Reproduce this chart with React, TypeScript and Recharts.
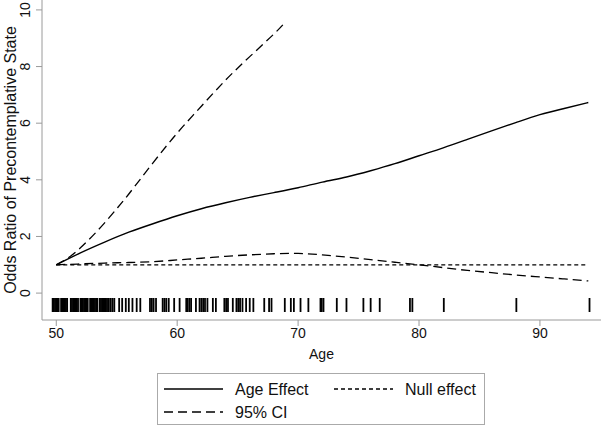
import { ComposedChart, Line, Scatter, XAxis, YAxis, Legend } from "recharts";

const effectAges = [50, 52, 54, 56, 58, 60, 62, 64, 66, 68, 70, 72, 74, 76, 78, 80, 82, 84, 86, 88, 90, 92, 94];
const ageEffect = [1.0, 1.42, 1.8, 2.15, 2.45, 2.73, 2.98, 3.19, 3.38, 3.55, 3.72, 3.92, 4.1, 4.32, 4.57, 4.85, 5.13, 5.43, 5.73, 6.02, 6.3, 6.52, 6.73];
const lowerCI = [1.0, 1.03, 1.06, 1.08, 1.11, 1.17, 1.23, 1.3, 1.35, 1.39, 1.4, 1.35, 1.27, 1.18, 1.09, 1.0, 0.9, 0.8, 0.72, 0.64, 0.57, 0.5, 0.43];

const upperAges = [50, 51, 52, 53, 54, 55, 56, 58, 60, 62, 64, 66, 68, 69];
const upperCI = [1.0, 1.25, 1.6, 2.02, 2.48, 2.98, 3.5, 4.6, 5.65, 6.6, 7.52, 8.35, 9.15, 9.6];

const nullAges = [50, 94];
const nullEffect = [1, 1];

const rugAges = [
  49.7, 49.8, 49.9, 50.0, 50.1, 50.2, 50.4, 50.5, 50.6, 50.7, 50.8, 50.9,
  51.2, 51.3, 51.4, 51.5, 51.6, 51.7, 51.8, 52.0, 52.1, 52.2, 52.3, 52.4, 52.5, 52.6,
  52.8, 52.9, 53.0, 53.1, 53.2, 53.3, 53.4, 53.6, 53.7, 53.8, 53.9, 54.0, 54.1, 54.2,
  54.35, 54.5, 54.65, 54.8, 55.2, 55.45, 55.75, 56.0, 56.3, 56.65, 56.95, 57.75, 57.9,
  58.05, 58.25, 58.8, 58.95, 59.1, 59.3, 59.75, 60.2, 60.75, 60.85, 61.0, 61.15, 61.55,
  61.85, 62.0, 62.15, 62.3, 62.5, 62.95, 63.2, 63.9, 64.05, 64.2, 64.6, 64.9, 65.05,
  65.2, 65.4, 65.7, 66.0, 66.3, 67.2, 67.6, 67.8, 68.9, 69.4, 69.65, 70.2, 70.85,
  71.85, 71.95, 72.1, 73.2, 74.0, 75.4, 76.0, 76.75, 79.25, 79.45, 82.05, 88.05, 94.1,
];
const rugLevel = -0.42;

const xTicks = [50, 60, 70, 80, 90];
const yTicks = [0, 2, 4, 6, 8, 10];

const toPoints = (xs: number[], ys: number[]) => xs.map((age, i) => ({ age, value: ys[i] }));

const FONT = "'Liberation Sans', Arial, sans-serif";
const AXIS = "#9a9a9a";
const LONG_DASH = "9 5";
const SHORT_DASH = "4 3";

const YTick = (props: any) => {
  const { x, y, payload } = props;
  return (
    <text x={x} y={y} transform={`rotate(-90 ${x} ${y})`} textAnchor="middle" dy={-4} fontSize={14} fontFamily={FONT} fill="#111">
      {payload.value}
    </text>
  );
};

const YTitle = (props: any) => {
  const vb = props.viewBox || { x: 0, y: 0, height: 320 };
  const x = vb.x + 16;
  const y = vb.y + vb.height / 2;
  return (
    <text x={x} y={y} transform={`rotate(-90 ${x} ${y})`} textAnchor="middle" fontSize={16} fontFamily={FONT} fill="#111">
      Odds Ratio of Precontemplative State
    </text>
  );
};

const RugMark = (props: any) => {
  const { cx, cy } = props;
  return <line x1={cx} x2={cx} y1={cy - 7} y2={cy + 7} stroke="#000" strokeWidth={1.8} />;
};

const legendItems = [
  { label: "Age Effect", dash: undefined },
  { label: "Null effect", dash: SHORT_DASH },
  { label: "95% CI", dash: LONG_DASH },
];

const LegendBox = () => (
  <div style={{ width: 328, height: 52, border: "1px solid #aaa", boxSizing: "border-box", background: "#fff" }}>
    <svg width={326} height={50}>
      {legendItems.map((it, i) => {
        const col = i % 2;
        const row = Math.floor(i / 2);
        const x0 = 6 + col * 170;
        const y0 = 15 + row * 23;
        return (
          <g key={it.label}>
            <line x1={x0} x2={x0 + 59} y1={y0} y2={y0} stroke="#000" strokeWidth={1.3} strokeDasharray={it.dash} />
            <text x={x0 + 71} y={y0 + 6} fontSize={16} fontFamily={FONT} fill="#111">
              {it.label}
            </text>
          </g>
        );
      })}
    </svg>
  </div>
);

export default function App() {
  return (
    <div style={{ width: 601, height: 426, background: "#fff", position: "relative" }}>
      <style>{"body{margin:0}"}</style>
      <ComposedChart width={601} height={426} margin={{ top: 0, right: 0, bottom: 0, left: 0 }}>
        <XAxis
          type="number"
          dataKey="age"
          domain={[48.82, 95.05]}
          ticks={xTicks}
          allowDataOverflow
          height={106}
          stroke={AXIS}
          tickSize={6}
          tick={{ fontSize: 14, fontFamily: FONT, fill: "#111" }}
          label={{ value: "Age", position: "insideTop", offset: 29, fontSize: 14, fontFamily: FONT, fill: "#111" }}
        />
        <YAxis
          type="number"
          dataKey="value"
          domain={[-0.95, 10.35]}
          ticks={yTicks}
          allowDataOverflow
          width={42}
          stroke={AXIS}
          tickSize={6}
          tick={<YTick />}
          label={{ position: "insideLeft", content: <YTitle /> }}
        />
        <Line data={toPoints(nullAges, nullEffect)} dataKey="value" stroke="#000" strokeWidth={1.2} strokeDasharray={SHORT_DASH} dot={false} isAnimationActive={false} />
        <Line data={toPoints(upperAges, upperCI)} dataKey="value" type="natural" stroke="#000" strokeWidth={1.3} strokeDasharray={LONG_DASH} dot={false} isAnimationActive={false} />
        <Line data={toPoints(effectAges, lowerCI)} dataKey="value" type="natural" stroke="#000" strokeWidth={1.3} strokeDasharray={LONG_DASH} dot={false} isAnimationActive={false} />
        <Line data={toPoints(effectAges, ageEffect)} dataKey="value" type="natural" stroke="#000" strokeWidth={1.4} dot={false} isAnimationActive={false} />
        <Scatter data={rugAges.map((age) => ({ age, value: rugLevel }))} dataKey="value" shape={<RugMark />} isAnimationActive={false} />
        <Legend layout="horizontal" verticalAlign="middle" align="center" wrapperStyle={{ top: 373, left: 157, width: 328, height: 52 }} content={<LegendBox />} />
      </ComposedChart>
    </div>
  );
}
